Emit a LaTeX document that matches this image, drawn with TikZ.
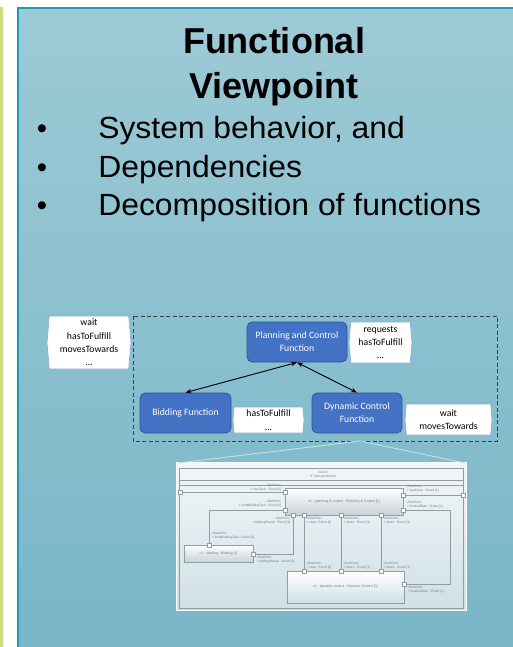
\documentclass[tikz,border=0pt]{standalone}
\usepackage{fontspec}
\setmainfont{Liberation Sans}
\newfontfamily\calfont{Carlito}
\newfontfamily\listfont[FakeStretch=1.04]{Liberation Sans}
\usetikzlibrary{shapes.symbols,arrows.meta}

\definecolor{leafgreen}{HTML}{C8DF7E}
\definecolor{panelTop}{HTML}{9DCAD6}
\definecolor{panelBot}{HTML}{79B6C7}
\definecolor{panelEdge}{HTML}{1A9CB4}
\definecolor{fnblue}{HTML}{4472C4}
\definecolor{fnedge}{HTML}{2F5597}
\definecolor{tagline}{HTML}{8FAADC}
\definecolor{frameGray}{HTML}{3F3F3F}
\definecolor{callout}{HTML}{C4DFE7}
\definecolor{shotTop}{HTML}{F2F6F7}
\definecolor{shotBot}{HTML}{D0E0E6}
\definecolor{shotLine}{HTML}{8E9EA4}
\definecolor{shotText}{HTML}{6E7C82}
\definecolor{partBot}{HTML}{C6D3D8}

\begin{document}
\begin{tikzpicture}[x=0.75pt,y=-0.75pt,
  fnbox/.style={rectangle, rounded corners=4pt, fill=fnblue, draw=fnedge,
    line width=0.6pt, text=white, align=center, inner sep=0pt,
    font=\calfont\fontsize{7.3}{9.75}\selectfont},
  tagbox/.style={signal, signal to=east and west, signal pointer angle=170,
    draw=tagline, fill=white, line width=0.5pt, inner sep=0pt, align=center,
    font=\calfont\fontsize{7.3}{10}\selectfont, text=black},
  link/.style={draw=black, line width=0.7pt, {Stealth[length=4.5pt,width=3.5pt]}-{Stealth[length=4.5pt,width=3.5pt]}},
  part/.style={rectangle, draw=shotLine, line width=0.35pt, top color=white,
    bottom color=partBot, inner sep=0pt, text=shotText,
    font=\fontsize{2.6}{3}\selectfont},
  wire/.style={draw=shotLine, line width=0.45pt},
  portbox/.style={rectangle, draw=shotLine, fill=white, line width=0.3pt,
    minimum size=3pt, inner sep=0pt},
  lbl/.style={font=\fontsize{2.4}{3}\selectfont, text=shotText, inner sep=0.4pt}
]
\useasboundingbox (0,0) rectangle (513,647);

% slide frame
\fill[white] (0,0) rectangle (513,647);
\fill[leafgreen] (0,7) rectangle (2.7,647);
\shade[top color=panelTop, bottom color=panelBot] (17,7) rectangle (513,647);
\draw[panelEdge, line width=1.1pt] (17.8,647) -- (17.8,7.8) -- (513,7.8);

% heading and bullet list
\node[anchor=base, font=\fontsize{27}{32}\selectfont\bfseries] (title1) at (274,53) {Functional};
\node[anchor=base, font=\fontsize{27}{32}\selectfont\bfseries] (title2) at (274,98) {Viewpoint};
\foreach \y/\txt [count=\i] in {138/{System behavior, and}, 177/{Dependencies}, 215/{Decomposition of functions}} {
  \node[anchor=base, font=\fontsize{22}{28}\selectfont] (dot\i) at (42,\y) {\textbullet};
  \node[anchor=base west, inner sep=0pt, font=\listfont\fontsize{23}{28}\selectfont] (item\i) at (98,\y) {\txt};
}

% functional decomposition
\node[tagbox, minimum width=63pt, minimum height=39.75pt] (tagL) at (89,342.5)
  {wait\\hasToFulfill\\movesTowards\\...};
\draw[frameGray, line width=0.7pt, dash pattern=on 3pt off 1.8pt] (133,316) rectangle (497,441);
\coordinate (frameApex) at (360,441);

\node[fnbox, minimum width=75pt, minimum height=30pt] (plan) at (297,342) {Planning and Control\\Function};
\node[tagbox, minimum width=47.25pt, minimum height=30.75pt] (tagPlan) at (380.5,342.5)
  {requests\\hasToFulfill\\...};
\node[fnbox, minimum width=68.25pt, minimum height=30pt] (bid) at (185.5,413) {Bidding Function};
\node[tagbox, minimum width=53.25pt, minimum height=19.5pt] (tagBid) at (268.5,420)
  {hasToFulfill\\...};
\node[fnbox, minimum width=67.5pt, minimum height=30pt] (dyn) at (357,413) {Dynamic Control\\Function};
\node[tagbox, minimum width=65.25pt, minimum height=23.25pt] (tagDyn) at (448.5,419.5)
  {wait\\movesTowards};

\draw[link] (plan.south) -- (bid.north);
\draw[link] (plan.south) -- (dyn.north);

% internal block diagram
\node[rectangle, inner sep=0pt, minimum width=217.5pt, minimum height=111pt,
  top color=shotTop, bottom color=shotBot, draw=white, line width=0.4pt] (shot) at (321,536) {};
\coordinate (shotNW) at (178,463);
\coordinate (shotNE) at (465,463);
\draw[callout, line width=0.7pt] (shotNW) -- (frameApex) -- (shotNE);

\draw[wire] (179,468) rectangle (463,608);
\draw[wire] (179,480) -- (463,480);
\draw[wire] (179,485) -- (463,485);
\node[lbl, align=center] (blockHead) at (323,474.5) {«block»\\IT TransportRobot};

\node[part, minimum width=88.5pt, minimum height=20.25pt] (pc) at (344,501.5)
  {c1 : planning \& control : Planning \& Control [1]};
\node[part, minimum width=51.75pt, minimum height=12.75pt] (bd) at (218.5,553.5)
  {c1 : bidding : Bidding [1]};
\node[part, minimum width=87.75pt, minimum height=24pt, top color=white, bottom color=shotBot] (dc) at (345.5,587)
  {c1 : dynamic control : Dynamic Control [1]};

% port positions
\coordinate (pL) at (180,492);
\coordinate (pR) at (463,495);
\coordinate (pcL1) at (285,492);
\coordinate (pcL2) at (285,510);
\coordinate (pcB1) at (293,515.5);
\coordinate (pcB2) at (304,515.5);
\coordinate (pcB3) at (341,515.5);
\coordinate (pcB4) at (381,515.5);
\coordinate (pcR1) at (403,495);
\coordinate (pcR2) at (403,510);
\coordinate (bdT) at (209,545);
\coordinate (bdR) at (253,554);
\coordinate (dcT1) at (304,571);
\coordinate (dcT2) at (341,571);
\coordinate (dcT3) at (381,571);
\coordinate (dcR) at (404,584);
\coordinate (loopTurn) at (450,510);

% flows
\draw[wire] (pL) -- (pcL1);
\draw[wire] (pcR1) -- (pR);
\draw[wire] (pcL2) -| (bdT);
\draw[wire] (bdR) -| (pcB1);
\draw[wire] (pcB2) -- (dcT1);
\draw[wire] (pcB3) -- (dcT2);
\draw[wire] (pcB4) -- (dcT3);
\draw[wire] (pcR2) -- (loopTurn) |- (dcR);

\foreach \p in {pL,pR,pcL1,pcL2,pcB1,pcB2,pcB3,pcB4,pcR1,pcR2,bdT,bdR,dcT1,dcT2,dcT3,dcR}
  \node[portbox] at (\p) {};

% flow port labels
\node[lbl, align=right, anchor=east] (lNew) at (282,488) {«flowPort»\\+ newTask : Event [1]};
\node[lbl, align=right, anchor=east] (lSend) at (282,504) {«flowPort»\\+ sendBiddingTask : Event [1]};
\node[lbl, align=right, anchor=east] (lRes) at (291,521) {«flowPort»\\+ biddingResult : Event [1]};
\node[lbl, align=left, anchor=west] (lStart) at (306,521) {«flowPort»\\+ start : Event [1]};
\node[lbl, align=left, anchor=west] (lD1) at (343,521) {«flowPort»\\+ dest1 : Event [1]};
\node[lbl, align=left, anchor=west] (lD2) at (383,521) {«flowPort»\\+ dest2 : Event [1]};
\node[lbl, align=left, anchor=west] (lDone) at (406,489) {«flowPort»\\+ taskDone : Event [1]};
\node[lbl, align=left, anchor=west] (lFin) at (406,505) {«flowPort»\\+ finishedTask : Event [1]};
\node[lbl, align=left, anchor=west] (lBidT) at (211,536) {«flowPort»\\+ sendBiddingTask : Event [1]};
\node[lbl, align=left, anchor=west] (lBidR) at (256,560) {«flowPort»\\+ biddingResult : Event [1]};
\node[lbl, align=left, anchor=west] (lStart2) at (306,566) {«flowPort»\\+ start : Event [1]};
\node[lbl, align=left, anchor=west] (lD12) at (343,566) {«flowPort»\\+ dest1 : Event [1]};
\node[lbl, align=left, anchor=west] (lD22) at (383,566) {«flowPort»\\+ dest2 : Event [1]};
\node[lbl, align=left, anchor=west] (lFin2) at (407,590) {«flowPort»\\+ finishedTask : Event [1]};

\end{tikzpicture}
\end{document}
